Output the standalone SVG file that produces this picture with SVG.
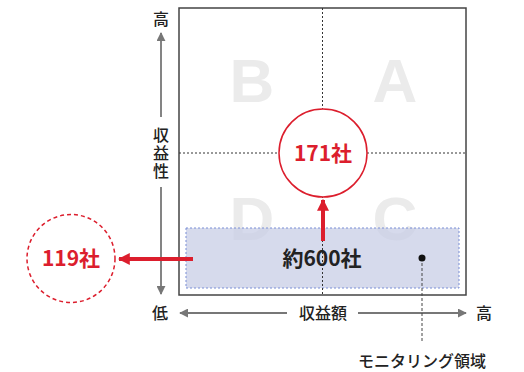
<svg xmlns="http://www.w3.org/2000/svg" width="524" height="372" viewBox="0 0 524 372">
<style>
text{font-family:"Noto Sans CJK JP","Noto Sans",sans-serif}
.ax{stroke:#777;stroke-width:1.8;fill:none}
.axl{font-size:16px;font-weight:500;fill:#222;text-anchor:middle}
.q{font-size:62px;font-weight:bold;fill:#ebebeb;text-anchor:middle;font-family:"Liberation Sans","Noto Sans",sans-serif}
.dot{stroke:#333;stroke-width:1;stroke-dasharray:2 2;fill:none}
.red{stroke:#dc1e2d;stroke-width:4;fill:none}
.rt{font-size:21px;font-weight:bold;fill:#dc1e2d;text-anchor:middle}
</style>
<defs>
<marker id="ga" viewBox="0 0 10 10" refX="9" refY="5" markerWidth="5" markerHeight="5" orient="auto"><path d="M0,0L10,5L0,10z" fill="#777"/></marker>
<marker id="ra" viewBox="0 0 10 10" refX="9" refY="5" markerWidth="3" markerHeight="3" orient="auto"><path d="M0,0L10,5L0,10z" fill="#dc1e2d"/></marker>
</defs>
<rect width="524" height="372" fill="#fff"/>
<g id="quadrants">
<text class="q" x="252" y="102">B</text>
<text class="q" x="395" y="102">A</text>
<text class="q" x="252" y="240">D</text>
<text class="q" x="395" y="240">C</text>
</g>
<g id="frame">
<rect x="179" y="8" width="287" height="287" fill="none" stroke="#444" stroke-width="1.5"/>
</g>
<g id="monitor-area">
<rect x="186" y="228" width="273" height="60" fill="#c8cde6" fill-opacity="0.75" stroke="#7a8fd6" stroke-width="1" stroke-dasharray="2 2"/>
</g>
<g id="connectors">
<line class="dot" x1="322.5" y1="8" x2="322.5" y2="295"/>
<line class="dot" x1="179" y1="153" x2="466" y2="153"/>
<line class="ax" x1="161" y1="117" x2="161" y2="33" marker-end="url(#ga)"/>
<line class="ax" x1="161" y1="187" x2="161" y2="294" marker-end="url(#ga)"/>
<line class="ax" x1="287" y1="313" x2="180" y2="313" marker-end="url(#ga)"/>
<line class="ax" x1="358" y1="313" x2="466" y2="313" marker-end="url(#ga)"/>
<line x1="422" y1="258" x2="422" y2="343" stroke="#444" stroke-width="1" stroke-dasharray="3 2"/>
<line class="red" x1="323" y1="241" x2="323" y2="200" marker-end="url(#ra)"/>
<line class="red" x1="193" y1="259" x2="119" y2="259" marker-end="url(#ra)"/>
</g>
<g id="axis-labels">
<text class="axl" x="161" y="25">高</text>
<text x="161" y="127" font-size="16" font-weight="500" fill="#222" writing-mode="vertical-rl" letter-spacing="2">収益性</text>
<text class="axl" x="160" y="319">低</text>
<text class="axl" x="323" y="319">収益額</text>
<text class="axl" x="484" y="319">高</text>
</g>
<g id="node-171">
<circle cx="323" cy="153" r="44" fill="#fff" stroke="#dc1e2d" stroke-width="1.5"/>
<text class="rt" x="323" y="161">171社</text>
</g>
<g id="node-119">
<circle cx="71" cy="258.5" r="44" fill="#fff" stroke="#dc1e2d" stroke-width="1.5" stroke-dasharray="4 3"/>
<text class="rt" x="71" y="266">119社</text>
</g>
<g id="node-600">
<text x="322" y="266" font-size="21" font-weight="bold" fill="#222" text-anchor="middle">約600社</text>
<circle cx="422" cy="258" r="3.5" fill="#111"/>
</g>
<g id="label-monitor">
<text x="422" y="367" font-size="16" font-weight="500" fill="#222" text-anchor="middle">モニタリング領域</text>
</g>
</svg>
